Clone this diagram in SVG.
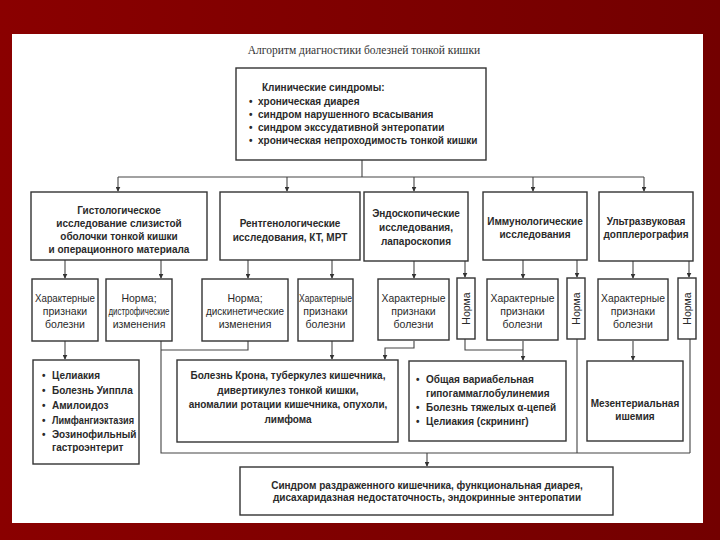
<svg xmlns="http://www.w3.org/2000/svg" width="720" height="540" viewBox="0 0 720 540">
<defs>
<marker id="ar" viewBox="0 0 8 8" refX="7" refY="4" markerWidth="5" markerHeight="5" orient="auto" markerUnits="userSpaceOnUse">
<path d="M0,0 L8,4 L0,8 z" fill="#333"/>
</marker>
<linearGradient id="bg" x1="0" y1="0" x2="1" y2="0">
<stop offset="0" stop-color="#8a0000"/>
<stop offset="1" stop-color="#730000"/>
</linearGradient>
</defs>
<style>
.box{fill:#fff;stroke:#333;stroke-width:1.4}
.ln{fill:none;stroke:#444;stroke-width:1.1}
.arr{fill:none;stroke:#444;stroke-width:1.1;marker-end:url(#ar)}
.b{font-family:"Liberation Sans",Arial,sans-serif;font-weight:bold;font-size:10px;fill:#2a2a2a}
.r{font-family:"Liberation Sans",Arial,sans-serif;font-size:10.5px;fill:#2a2a2a}
.c{text-anchor:middle}
.t{font-family:"Liberation Serif","Times New Roman",serif;font-size:11.5px;fill:#333;text-anchor:middle}
</style>
<rect x="0" y="0" width="720" height="540" fill="url(#bg)"/>
<rect x="12" y="34" width="691" height="489" fill="#fff"/>

<text class="t" x="364" y="54">Алгоритм диагностики болезней тонкой кишки</text>

<g id="connectors">
<path class="ln" d="M362,160 V177 M118,177 H644"/>
<path class="arr" d="M118,177 V191"/>
<path class="arr" d="M287,177 V191"/>
<path class="arr" d="M414,177 V191"/>
<path class="arr" d="M533,177 V191"/>
<path class="arr" d="M644,177 V191"/>

<path class="arr" d="M65,260 V278"/>
<path class="arr" d="M161,260 V278"/>
<path class="arr" d="M248,260 V278"/>
<path class="arr" d="M332,260 V278"/>
<path class="arr" d="M414,261 V278"/>
<path class="arr" d="M465,261 V277"/>
<path class="arr" d="M523,260 V278"/>
<path class="arr" d="M577,260 V277"/>
<path class="arr" d="M633,261 V278"/>
<path class="arr" d="M689,261 V277"/>

<path class="arr" d="M65,341 V359"/>
<path class="ln" d="M161,341 V453 H690 M248,341 V350 H161"/>
<path class="arr" d="M332,341 V359"/>
<path class="arr" d="M414,341 V348 H385 V359"/>
<path class="ln" d="M465,339 V350 H523"/>
<path class="arr" d="M523,341 V360"/>
<path class="ln" d="M577,339 V453 M690,339 V453"/>
<path class="arr" d="M633,341 V360"/>
<path class="arr" d="M427,453 V466"/>
</g>

<g id="clinical">
<rect class="box" x="236" y="68" width="250" height="92"/>
<text class="b" x="262" y="90.5">Клинические синдромы:</text>
<g class="b">
<text x="249" y="105">•</text><text x="258" y="105">хроническая диарея</text>
<text x="249" y="118">•</text><text x="258" y="118">синдром нарушенного всасывания</text>
<text x="249" y="131">•</text><text x="258" y="131">синдром экссудативной энтеропатии</text>
<text x="249" y="144">•</text><text x="258" y="144">хроническая непроходимость тонкой кишки</text>
</g>
</g>

<g id="histology">
<rect class="box" x="31" y="192" width="176" height="68"/>
<text class="b c" x="119" y="213.5">Гистологическое</text>
<text class="b c" x="119" y="226.5">исследование слизистой</text>
<text class="b c" x="119" y="239.5">оболочки тонкой кишки</text>
<text class="b c" x="119" y="252.5">и операционного материала</text>
</g>
<g id="xray">
<rect class="box" x="220" y="192" width="140" height="68"/>
<text class="b c" x="290" y="226.5">Рентгенологические</text>
<text class="b c" x="290" y="240.5">исследования, КТ, МРТ</text>
</g>
<g id="endoscopy">
<rect class="box" x="364" y="192" width="104" height="69"/>
<text class="b c" x="416" y="216.5">Эндоскопические</text>
<text class="b c" x="416" y="230.5">исследования,</text>
<text class="b c" x="416" y="245">лапароскопия</text>
</g>
<g id="immuno">
<rect class="box" x="483" y="192" width="104" height="68"/>
<text class="b c" x="535" y="224.5">Иммунологические</text>
<text class="b c" x="535" y="238">исследования</text>
</g>
<g id="ultrasound">
<rect class="box" x="599" y="192" width="94" height="69"/>
<text class="b c" x="646" y="224.5">Ультразвуковая</text>
<text class="b c" x="646" y="238">допплерография</text>
</g>

<g id="histo-char">
<rect class="box" x="32" y="279" width="66" height="62"/>
<text class="r c" x="65" y="302" textLength="60" lengthAdjust="spacingAndGlyphs">Характерные</text>
<text class="r c" x="65" y="315">признаки</text>
<text class="r c" x="65" y="328">болезни</text>
</g>
<g id="histo-norm">
<rect class="box" x="106" y="279" width="66" height="62"/>
<text class="r c" x="139" y="302">Норма;</text>
<text class="r c" x="139" y="315" textLength="61" lengthAdjust="spacingAndGlyphs">дистрофические</text>
<text class="r c" x="139" y="328">изменения</text>
</g>
<g id="xray-norm">
<rect class="box" x="202" y="279" width="86" height="62"/>
<text class="r c" x="245" y="302">Норма;</text>
<text class="r c" x="245" y="315" textLength="78" lengthAdjust="spacingAndGlyphs">дискинетические</text>
<text class="r c" x="245" y="328">изменения</text>
</g>
<g id="xray-char">
<rect class="box" x="298" y="279" width="55" height="62"/>
<text class="r c" x="325.5" y="302" textLength="53" lengthAdjust="spacingAndGlyphs">Характерные</text>
<text class="r c" x="325.5" y="315">признаки</text>
<text class="r c" x="325.5" y="328">болезни</text>
</g>
<g id="endo-char">
<rect class="box" x="378" y="279" width="71" height="61"/>
<text class="r c" x="413.5" y="302" textLength="64" lengthAdjust="spacingAndGlyphs">Характерные</text>
<text class="r c" x="413.5" y="315">признаки</text>
<text class="r c" x="413.5" y="328">болезни</text>
</g>
<g id="endo-norm">
<rect class="box" x="457" y="278" width="18" height="61"/>
<text class="r c" transform="translate(469.5,308.5) rotate(-90)">Норма</text>
</g>
<g id="immuno-char">
<rect class="box" x="487" y="279" width="71" height="61"/>
<text class="r c" x="522.5" y="302" textLength="64" lengthAdjust="spacingAndGlyphs">Характерные</text>
<text class="r c" x="522.5" y="315">признаки</text>
<text class="r c" x="522.5" y="328">болезни</text>
</g>
<g id="immuno-norm">
<rect class="box" x="567" y="278" width="18" height="61"/>
<text class="r c" transform="translate(579.5,308.5) rotate(-90)">Норма</text>
</g>
<g id="us-char">
<rect class="box" x="598" y="279" width="70" height="61"/>
<text class="r c" x="633" y="302" textLength="64" lengthAdjust="spacingAndGlyphs">Характерные</text>
<text class="r c" x="633" y="315">признаки</text>
<text class="r c" x="633" y="328">болезни</text>
</g>
<g id="us-norm">
<rect class="box" x="678" y="278" width="18" height="61"/>
<text class="r c" transform="translate(690.5,308.5) rotate(-90)">Норма</text>
</g>

<g id="histo-list">
<rect class="box" x="33" y="360" width="106" height="104"/>
<g class="b">
<text x="42" y="378.5">•</text><text x="52" y="378.5">Целиакия</text>
<text x="42" y="393.5">•</text><text x="52" y="393.5">Болезнь Уиппла</text>
<text x="42" y="408.5">•</text><text x="52" y="408.5">Амилоидоз</text>
<text x="42" y="423.5">•</text><text x="52" y="423.5" textLength="82" lengthAdjust="spacingAndGlyphs">Лимфангиэктазия</text>
<text x="42" y="437.5">•</text><text x="52" y="437.5">Эозинофильный</text>
<text x="52" y="450.5">гастроэнтерит</text>
</g>
</g>
<g id="crohn">
<rect class="box" x="177" y="360" width="221" height="82"/>
<text class="b c" x="288" y="379">Болезнь Крона, туберкулез кишечника,</text>
<text class="b c" x="288" y="393.5">дивертикулез тонкой кишки,</text>
<text class="b c" x="288" y="408">аномалии ротации кишечника, опухоли,</text>
<text class="b c" x="288" y="422.5">лимфома</text>
</g>
<g id="immuno-list">
<rect class="box" x="409" y="361" width="157" height="80"/>
<g class="b">
<text x="416" y="382.5">•</text><text x="426" y="382.5">Общая вариабельная</text>
<text x="426" y="396.5">гипогаммаглобулинемия</text>
<text x="416" y="410.5">•</text><text x="426" y="410.5">Болезнь тяжелых α-цепей</text>
<text x="416" y="424.5">•</text><text x="426" y="424.5">Целиакия (скрининг)</text>
</g>
</g>
<g id="mesenteric">
<rect class="box" x="587" y="361" width="96" height="80"/>
<text class="b c" x="635" y="406.5">Мезентериальная</text>
<text class="b c" x="635" y="419.5">ишемия</text>
</g>
<g id="ibs">
<rect class="box" x="240" y="467" width="373" height="48"/>
<text class="b c" x="427" y="488.5">Синдром раздраженного кишечника, функциональная диарея,</text>
<text class="b c" x="427" y="501">дисахаридазная недостаточность, эндокринные энтеропатии</text>
</g>
</svg>
